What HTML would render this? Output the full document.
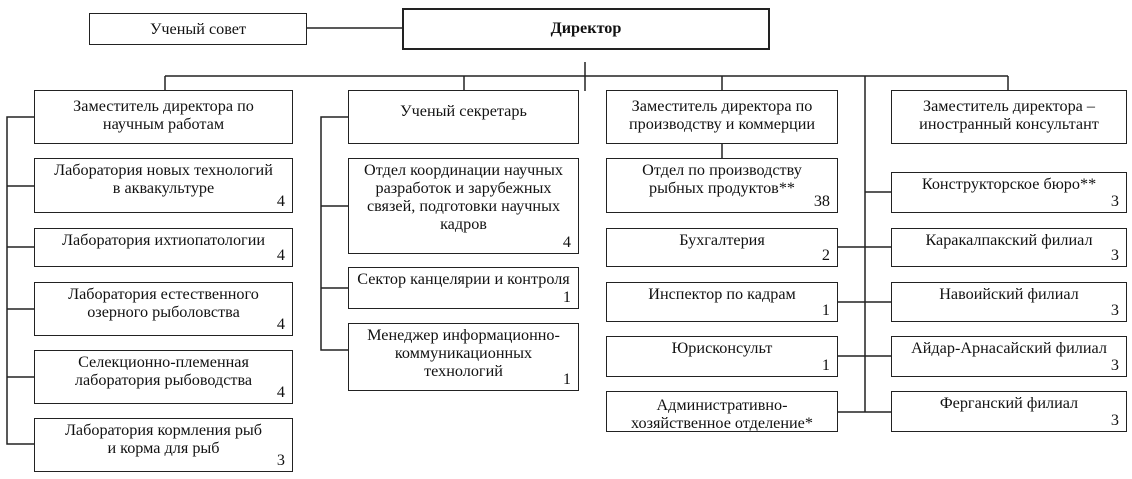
<!DOCTYPE html>
<html><head><meta charset="utf-8"><style>
body{margin:0;width:1132px;height:479px;background:#fff;position:relative;overflow:hidden;font-family:"Liberation Serif","Times New Roman",serif;color:#111}
.b{position:absolute;border:1.5px solid #222;box-sizing:border-box;text-align:center;font-size:16.2px;line-height:18px;padding-top:2px;background:#fff;white-space:nowrap}
.n{position:absolute;right:7px;bottom:2px;line-height:18px}
svg{position:absolute;left:0;top:0}
</style></head><body>
<svg width="1132" height="479" stroke="#222" stroke-width="1.5" fill="none">
<line x1="307" y1="28" x2="402" y2="28"/>
<line x1="585" y1="62" x2="585" y2="91"/>
<line x1="165" y1="76" x2="1008" y2="76"/>
<line x1="165" y1="76" x2="165" y2="90"/>
<line x1="464" y1="76" x2="464" y2="90"/>
<line x1="722" y1="76" x2="722" y2="90"/>
<line x1="722" y1="144" x2="722" y2="158"/>
<line x1="1008" y1="76" x2="1008" y2="90"/>
<line x1="865" y1="76" x2="865" y2="412"/>
<polyline points="34,117 7,117 7,444 34,444"/>
<line x1="7" y1="186" x2="34" y2="186"/>
<line x1="7" y1="247" x2="34" y2="247"/>
<line x1="7" y1="309" x2="34" y2="309"/>
<line x1="7" y1="377" x2="34" y2="377"/>
<polyline points="348,117 321,117 321,350 348,350"/>
<line x1="321" y1="206" x2="348" y2="206"/>
<line x1="321" y1="288" x2="348" y2="288"/>
<line x1="837" y1="247" x2="891" y2="247"/>
<line x1="837" y1="302" x2="891" y2="302"/>
<line x1="837" y1="356" x2="891" y2="356"/>
<line x1="837" y1="412" x2="891" y2="412"/>
<line x1="865" y1="192" x2="891" y2="192"/>
</svg>
<div class="b" style="left:89px;top:13px;width:218px;height:32px;padding-top:6px">Ученый совет</div>
<div class="b" style="left:402px;top:8px;width:368px;height:42px;border-width:2px;padding-top:9px;font-weight:bold">Директор</div>

<div class="b" style="left:34px;top:90px;width:259px;height:54px;padding-top:6px">Заместитель директора по<br>научным работам</div>
<div class="b" style="left:34px;top:158px;width:259px;height:55px">Лаборатория новых технологий<br>в аквакультуре<span class="n">4</span></div>
<div class="b" style="left:34px;top:228px;width:259px;height:39px">Лаборатория ихтиопатологии<span class="n">4</span></div>
<div class="b" style="left:34px;top:282px;width:259px;height:54px">Лаборатория естественного<br>озерного рыболовства<span class="n">4</span></div>
<div class="b" style="left:34px;top:350px;width:259px;height:54px">Селекционно-племенная<br>лаборатория рыбоводства<span class="n">4</span></div>
<div class="b" style="left:34px;top:418px;width:259px;height:54px">Лаборатория кормления рыб<br>и корма для рыб<span class="n">3</span></div>

<div class="b" style="left:348px;top:90px;width:231px;height:54px;padding-top:11px">Ученый секретарь</div>
<div class="b" style="left:348px;top:158px;width:231px;height:96px">Отдел координации научных<br>разработок и зарубежных<br>связей, подготовки научных<br>кадров<span class="n">4</span></div>
<div class="b" style="left:348px;top:267px;width:231px;height:42px">Сектор канцелярии и контроля<span class="n">1</span></div>
<div class="b" style="left:348px;top:323px;width:231px;height:68px">Менеджер информационно-<br>коммуникационных<br>технологий<span class="n">1</span></div>

<div class="b" style="left:606px;top:90px;width:232px;height:54px;padding-top:6px">Заместитель директора по<br>производству и коммерции</div>
<div class="b" style="left:606px;top:158px;width:232px;height:55px">Отдел по производству<br>рыбных продуктов**<span class="n">38</span></div>
<div class="b" style="left:606px;top:228px;width:232px;height:39px">Бухгалтерия<span class="n">2</span></div>
<div class="b" style="left:606px;top:282px;width:232px;height:40px">Инспектор по кадрам<span class="n">1</span></div>
<div class="b" style="left:606px;top:336px;width:232px;height:41px">Юрисконсульт<span class="n">1</span></div>
<div class="b" style="left:606px;top:391px;width:232px;height:41px;padding-top:4px">Административно-<br>хозяйственное отделение*</div>

<div class="b" style="left:891px;top:90px;width:236px;height:54px;padding-top:6px">Заместитель директора –<br>иностранный консультант</div>
<div class="b" style="left:891px;top:172px;width:236px;height:41px">Конструкторское бюро**<span class="n">3</span></div>
<div class="b" style="left:891px;top:228px;width:236px;height:39px">Каракалпакский филиал<span class="n">3</span></div>
<div class="b" style="left:891px;top:282px;width:236px;height:40px">Навоийский филиал<span class="n">3</span></div>
<div class="b" style="left:891px;top:336px;width:236px;height:41px">Айдар-Арнасайский филиал<span class="n">3</span></div>
<div class="b" style="left:891px;top:391px;width:236px;height:41px">Ферганский филиал<span class="n">3</span></div>
</body></html>
